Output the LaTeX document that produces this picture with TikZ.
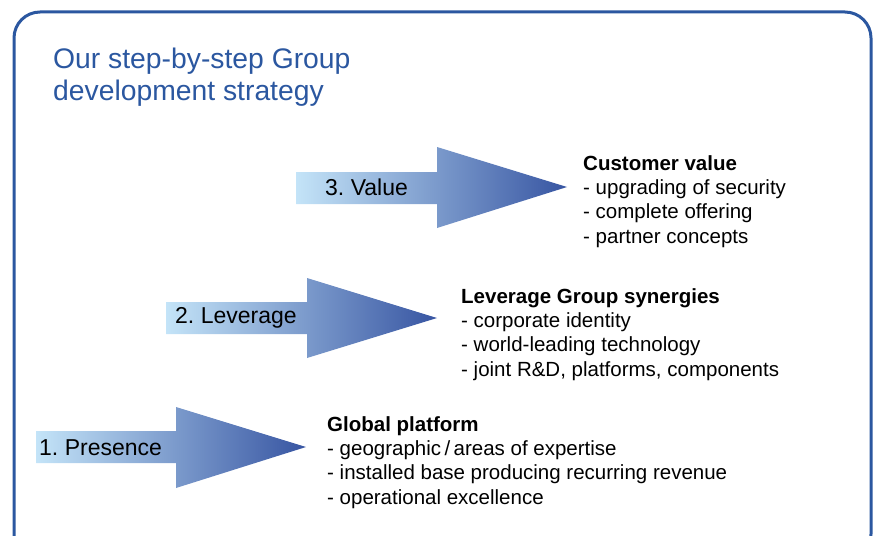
\documentclass[tikz,border=0pt]{standalone}
\usepackage{fontspec}
\setmainfont{Liberation Sans}
\usepackage{tikz}
\usetikzlibrary{positioning, calc}
\definecolor{frameblue}{RGB}{43,87,160}
\definecolor{lightend}{RGB}{196,228,248}
\definecolor{darkend}{RGB}{55,85,162}
\tikzset{
    stepshade/.style={left color=lightend, right color=darkend, draw=none},
    steplabel/.style={anchor=west, inner sep=0pt, font=\fontsize{23}{26}\selectfont},
    stepinfo/.style={anchor=north west, inner sep=0pt, align=left,
        font=\fontsize{20.5}{24.4}\selectfont},
    titleline/.style={anchor=base west, inner sep=0pt, text=frameblue,
        font=\fontsize{28.3}{32}\selectfont}}

\begin{document}
\begin{tikzpicture}[x=1pt, y=-1pt]
    \useasboundingbox (0,0) rectangle (874,535);
    \clip (0,0) rectangle (874,535);
    % Frame
    \draw[frameblue, line width=3pt, rounded corners=26pt] (14,12) rectangle (871,560);
    \node[titleline] (title) at (53,68) {Our step-by-step Group};
    \node[titleline] (title2) at (53,100) {development strategy};

    % Step 3
    \shade[stepshade] (296,172) -- (437,172) -- (437,147) -- (567,187)
        -- (437,228) -- (437,204) -- (296,204) -- cycle;
    \node[steplabel] (value) at (325,187) {3.\ Value};
    \node[stepinfo] (custinfo) at (583,155)
        {\textbf{Customer value}\\- upgrading of security\\- complete offering\\- partner concepts};

    % Step 2
    \shade[stepshade] (166,302) -- (307,302) -- (307,278) -- (437,318)
        -- (307,358) -- (307,334) -- (166,334) -- cycle;
    \node[steplabel] (leverage) at (175,318) {2.\ Leverage};
    \node[stepinfo] (levinfo) at (461,288)
        {\textbf{Leverage Group synergies}\\- corporate identity\\- world-leading technology\\- joint R\&D, platforms, components};

    % Step 1
    \shade[stepshade] (36,431) -- (176,431) -- (176,407) -- (306,447)
        -- (176,488) -- (176,463) -- (36,463) -- cycle;
    \node[steplabel] (presence) at (39,448) {1.\ Presence};
    \node[stepinfo] (globinfo) at (327,416)
        {\textbf{Global platform}\\- geographic\,/\,areas of expertise\\- installed base producing recurring revenue\\- operational excellence};
\end{tikzpicture}
\end{document}
